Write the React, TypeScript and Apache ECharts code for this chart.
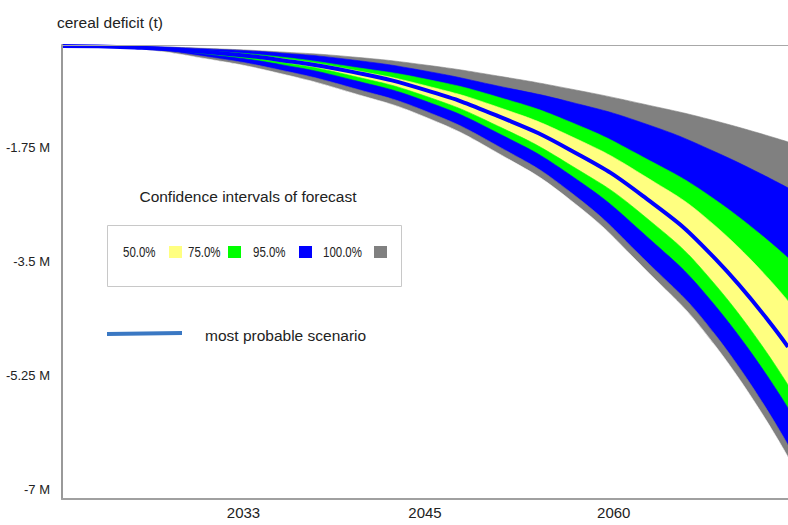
import React, { useEffect, useRef } from "react";
import * as echarts from "echarts";

// time steps of the forecast horizon (0 = start, 100 = end)
const timeSteps = [0, 10, 20, 30, 40, 50, 60, 70, 80, 90, 100];
const tickSteps = [25, 50, 76];
const tickLabels = ["2033", "2045", "2060"];
const yTicks = [-1.75, -3.5, -5.25, -7];

// boundaries of the confidence bands, millions of tonnes
const upper100 = [-0.184, -0.192, -0.223, -0.276, -0.353, -0.476, -0.645, -0.844, -1.075, -1.336, -1.658];
const upper95 = [-0.184, -0.192, -0.23, -0.292, -0.399, -0.568, -0.798, -1.044, -1.366, -1.812, -2.364];
const upper75 = [-0.184, -0.2, -0.261, -0.353, -0.507, -0.691, -0.967, -1.351, -1.888, -2.548, -3.439];
const upper50 = [-0.184, -0.203, -0.269, -0.376, -0.553, -0.791, -1.121, -1.566, -2.165, -2.948, -4.099];
const median = [-0.184, -0.207, -0.276, -0.399, -0.583, -0.86, -1.259, -1.781, -2.487, -3.454, -4.805];
const lower50 = [-0.184, -0.212, -0.292, -0.43, -0.645, -0.952, -1.412, -2.011, -2.779, -3.853, -5.389];
const lower75 = [-0.184, -0.215, -0.315, -0.468, -0.706, -1.029, -1.52, -2.165, -3.055, -4.176, -5.742];
const lower95 = [-0.184, -0.223, -0.353, -0.553, -0.829, -1.182, -1.719, -2.426, -3.439, -4.621, -6.31];
const lower100 = [-0.184, -0.23, -0.384, -0.606, -0.906, -1.274, -1.827, -2.548, -3.577, -4.79, -6.494];

const GRAY = "#808080";
const BLUE = "#0000ff";
const GREEN = "#00ff00";
const YELLOW = "#ffff80";

// fill colour below each boundary (painted top to bottom)
const fillColors = [GRAY, BLUE, GREEN, YELLOW, GREEN, BLUE, GRAY, "#ffffff"];
const legendLabels = ["50.0%", "75.0%", "95.0%", "100.0%"];
const legendColors = [YELLOW, GREEN, BLUE, GRAY];

const REG = "'Liberation Sans', Arial, Helvetica, sans-serif";

export default function App() {
  const ref = useRef<HTMLDivElement>(null);

  useEffect(() => {
    const chart = echarts.init(ref.current!, null, { renderer: "svg" });
    const bounds = [upper100, upper95, upper75, upper50, lower50, lower75, lower95, lower100];
    const series: any[] = bounds.map((b, k) => ({
      type: "line",
      data: timeSteps.map((s, i) => [s, b[i]]),
      areaStyle: { color: fillColors[k], opacity: 1, origin: "start" },
      lineStyle: { width: 0.6, color: fillColors[k] },
      itemStyle: { color: fillColors[k] },
      showSymbol: false,
      smooth: true,
      silent: true,
      z: 2,
    }));
    series.push({
      type: "line",
      data: timeSteps.map((s, i) => [s, median[i]]),
      lineStyle: { width: 4, color: BLUE },
      itemStyle: { color: BLUE },
      showSymbol: false,
      smooth: true,
      silent: true,
      z: 3,
    });

    const graphic: any[] = [
      {
        type: "text",
        x: 57,
        y: 22,
        z: 100,
        style: { text: "cereal deficit (t)", font: `15.5px ${REG}`, fill: "#222", textVerticalAlign: "middle" },
      },
      {
        type: "text",
        x: 248,
        y: 196,
        z: 100,
        style: {
          text: "Confidence intervals of forecast",
          font: `15.5px ${REG}`,
          fill: "#222",
          textAlign: "center",
          textVerticalAlign: "middle",
        },
      },
      {
        type: "rect",
        z: 100,
        shape: { x: 107.5, y: 225.5, width: 294, height: 61 },
        style: { fill: "#fff", stroke: "#c8c8c8", lineWidth: 1 },
      },
      {
        type: "line",
        z: 100,
        shape: { x1: 107, y1: 334, x2: 182, y2: 333 },
        style: { stroke: "#3a78c3", lineWidth: 4 },
      },
      {
        type: "text",
        x: 205,
        y: 335,
        z: 100,
        style: { text: "most probable scenario", font: `15.5px ${REG}`, fill: "#222", textVerticalAlign: "middle" },
      },
    ];
    const labelX = [123, 188, 253, 323];
    const swatchX = [169, 228, 299, 374];
    legendLabels.forEach((lab, i) => {
      graphic.push({
        type: "text",
        x: labelX[i],
        y: 252,
        z: 101,
        scaleX: 0.82,
        style: { text: lab, font: `14px ${REG}`, fill: "#222", textVerticalAlign: "middle" },
      });
      graphic.push({
        type: "rect",
        z: 101,
        shape: { x: swatchX[i], y: 246, width: 13, height: 12 },
        style: { fill: legendColors[i] },
      });
    });

    chart.setOption({
      animation: false,
      backgroundColor: "#fff",
      grid: { left: 62, right: 0, top: 45, bottom: 26, containLabel: false, outerBoundsMode: "none" },
      xAxis: [
        {
          type: "value",
          min: 0,
          max: 100,
          z: 5,
          axisLine: { show: true, onZero: false, lineStyle: { color: "#a0a0a0", width: 2 } },
          axisTick: { show: false },
          splitLine: { show: false },
          axisLabel: {
            customValues: tickSteps,
            formatter: (v: number) => tickLabels[tickSteps.indexOf(v)] ?? "",
            color: "#222",
            fontFamily: REG,
            fontSize: 15,
            margin: 6,
          },
        },
        {
          type: "value",
          position: "top",
          min: 0,
          max: 100,
          z: 5,
          axisLine: { show: true, onZero: false, lineStyle: { color: "#a8a8a8", width: 1 } },
          axisTick: { show: false },
          splitLine: { show: false },
          axisLabel: { show: false },
        },
      ],
      yAxis: {
        type: "value",
        min: -7.14,
        max: -0.17,
        z: 5,
        axisLine: { show: true, onZero: false, lineStyle: { color: "#999", width: 2 } },
        axisTick: { show: false },
        splitLine: { show: false },
        axisLabel: {
          customValues: yTicks,
          formatter: (v: number) => `${v} M`,
          color: "#222",
          fontFamily: REG,
          fontSize: 13,
          margin: 12,
        },
      },
      series,
      graphic,
    });

    return () => chart.dispose();
  }, []);

  return (
    <div
      ref={ref}
      style={{ position: "fixed", left: 0, top: 0, width: 788, height: 525, background: "#fff" }}
    />
  );
}
